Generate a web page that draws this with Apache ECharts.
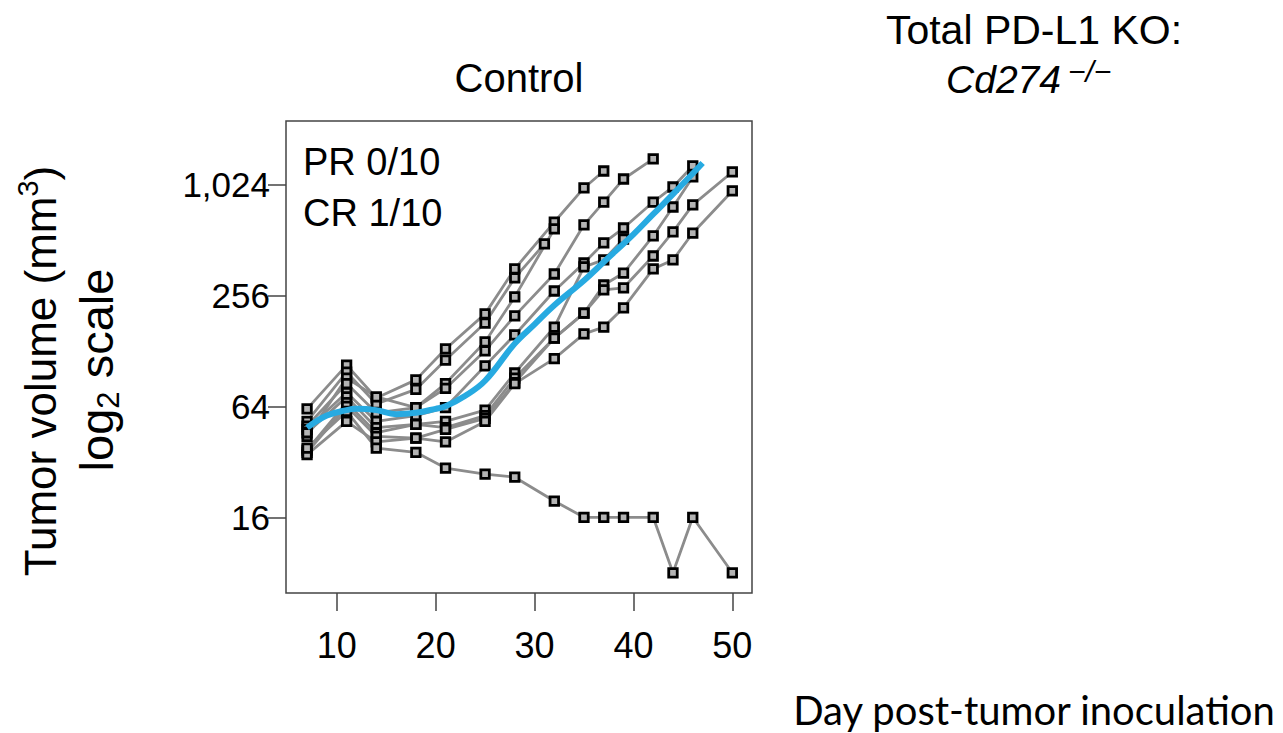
<!DOCTYPE html>
<html><head><meta charset="utf-8">
<script src="https://cdn.jsdelivr.net/npm/echarts@6/dist/echarts.min.js"></script>
<style>html,body{margin:0;padding:0;background:#fff}#c{width:1283px;height:733px}</style>
</head><body><div id="c"></div>
<script>
// ---- tick labels ----
const dayTicks = [10, 20, 30, 40, 50];
const volTicks = [16, 64, 256, 1024];

// ---- individual mice: [day, tumor volume mm3] ----
const mouseA = [[7,62],[11,107],[14,71],[18,89],[21,131],[25,203],[28,356],[32,639],[35,978],[37,1209]];
const mouseB = [[7,53],[11,98],[14,66],[18,79],[21,114],[25,181],[28,318],[31,486]];
const mouseC = [[7,44],[11,91],[14,72],[18,63],[21,85],[25,143],[28,251],[32,586]];
const mouseD = [[7,50],[11,85],[14,59],[18,63],[21,80],[25,128],[28,198],[32,334],[35,617],[37,820],[39,1094],[42,1405]];
const mouseE = [[7,48],[11,76],[14,53],[18,57],[21,63],[25,106],[28,156],[32,270],[35,383],[37,492],[39,593],[42,820],[44,990],[46,1287]];
const mouseF = [[7,46],[11,72],[14,49],[18,51],[21,53],[25,61],[28,97],[32,172],[35,365],[37,398],[39,517]];
const mouseG = [[7,37],[11,67],[14,46],[18,51],[21,49],[25,57],[28,91],[32,150],[35,205],[37,291],[39,338],[42,537],[44,771],[46,1122]];
const mouseH = [[7,36],[11,64],[14,44],[18,43],[21,48],[25,55],[28,86],[32,150],[35,205],[37,274],[39,281],[42,418],[44,565],[46,791],[50,1194]];
const mouseI = [[7,35],[11,53],[14,41],[18,43],[21,41],[25,53],[28,85],[32,116],[35,158],[37,172],[39,219],[42,356],[44,398],[46,557],[50,942]];
const mouseJ = [[7,38],[11,60],[14,38],[18,36],[21,29.6],[25,27.4],[28,26.4],[32,19.6],[35,16],[37,16],[39,16],[42,16],[44,8],[46,16],[50,8]];

// ---- smoothed group trend ----
const fitLine = [[7,49],[9,57],[11,61],[12,62],[14,61],[16,58],[18,59],[20,62],[21,64],[23,73],[25,88],[28,140],[30,178],[32,226],[35,308],[37,388],[40,548],[42,705],[44,905],[47,1336]];

// ---- texts ----
const panelTitle = 'Control';
const groupTitle = 'Total PD-L1 KO:';
const geneName = 'Cd274';
const geneSup = '\u2212/\u2212';
const responseLines = ['PR 0/10', 'CR 1/10'];
const xTitle = 'Day post-tumor inoculation';

const mice = [mouseA, mouseB, mouseC, mouseD, mouseE, mouseF, mouseG, mouseH, mouseI, mouseJ];
const FONT = '"Liberation Sans", Arial, Helvetica, sans-serif';

const chart = echarts.init(document.getElementById('c'), null, {renderer: 'svg'});
const toLog = p => [p[0], Math.log2(p[1])];

const series = mice.map(m => ({
  type: 'line', data: m.map(toLog), symbol: 'rect', symbolSize: 8.5, showAllSymbol: true,
  lineStyle: {color: '#8c8c8c', width: 2.8},
  itemStyle: {color: '#b4b4b4', borderColor: '#000', borderWidth: 2.8},
  z: 2, silent: true
}));
series.push({
  type: 'line', data: fitLine.map(toLog), smooth: 0.4, symbol: 'none',
  lineStyle: {color: '#27aae1', width: 6}, z: 5, silent: true
});

chart.setOption({
  animation: false,
  grid: {left: 286, top: 121, width: 466, height: 472, show: true, borderColor: '#444', borderWidth: 1.5, backgroundColor: 'transparent'},
  xAxis: {
    type: 'value', min: 4.87, max: 51.99,
    axisLine: {show: false, onZero: false}, splitLine: {show: false},
    axisTick: {show: true, length: 18, customValues: dayTicks, lineStyle: {color: '#444', width: 1.5}},
    axisLabel: {customValues: dayTicks, fontSize: 36, fontFamily: FONT, color: '#000', margin: 34}
  },
  yAxis: {
    type: 'value', min: 2.636, max: 11.14,
    axisLine: {show: false, onZero: false}, splitLine: {show: false},
    axisTick: {show: true, length: 18, customValues: volTicks.map(Math.log2), lineStyle: {color: '#444', width: 1.5}},
    axisLabel: {customValues: volTicks.map(Math.log2), fontSize: 35, fontFamily: FONT, color: '#000', margin: 16,
      formatter: v => Math.round(Math.pow(2, v)).toLocaleString('en-US')}
  },
  graphic: [
    {type: 'text', x: 519, y: 78, style: {text: panelTitle, font: '40px ' + FONT, fill: '#000', textAlign: 'center', textVerticalAlign: 'middle'}},
    {type: 'text', x: 1034, y: 30, style: {text: groupTitle, font: '41px ' + FONT, fill: '#000', textAlign: 'center', textVerticalAlign: 'middle'}},
    {type: 'text', x: 1061, y: 79, style: {text: geneName, font: 'italic 39px ' + FONT, fill: '#000', textAlign: 'right', textVerticalAlign: 'middle'}},
    {type: 'text', x: 1068, y: 71, style: {text: geneSup, font: 'italic 30px ' + FONT, fill: '#000', textAlign: 'left', textVerticalAlign: 'middle'}},
    {type: 'text', x: 303, y: 162, style: {text: responseLines[0], font: '38px ' + FONT, fill: '#000', textAlign: 'left', textVerticalAlign: 'middle'}},
    {type: 'text', x: 303, y: 213, style: {text: responseLines[1], font: '38px ' + FONT, fill: '#000', textAlign: 'left', textVerticalAlign: 'middle'}},
    {type: 'text', x: 40, y: 371, rotation: Math.PI / 2, style: {
      text: 'Tumor volume (mm{sup|3})', fill: '#000', textAlign: 'center', textVerticalAlign: 'middle',
      fontSize: 44, fontFamily: FONT, lineHeight: 54,
      rich: {sup: {fontSize: 29, fontFamily: FONT, verticalAlign: 'top', lineHeight: 29}}}},
    {type: 'text', x: 96, y: 370, rotation: Math.PI / 2, style: {
      text: 'log{sub|2} scale', fill: '#000', textAlign: 'center', textVerticalAlign: 'middle',
      fontSize: 47, fontFamily: FONT, lineHeight: 56,
      rich: {sub: {fontSize: 31, fontFamily: FONT, verticalAlign: 'bottom', lineHeight: 31}}}},
    {type: 'text', x: 1034, y: 710, style: {text: xTitle, font: '40px Lato, sans-serif', fill: '#000', textAlign: 'center', textVerticalAlign: 'middle'}}
  ],
  series: series
});
</script></body></html>
